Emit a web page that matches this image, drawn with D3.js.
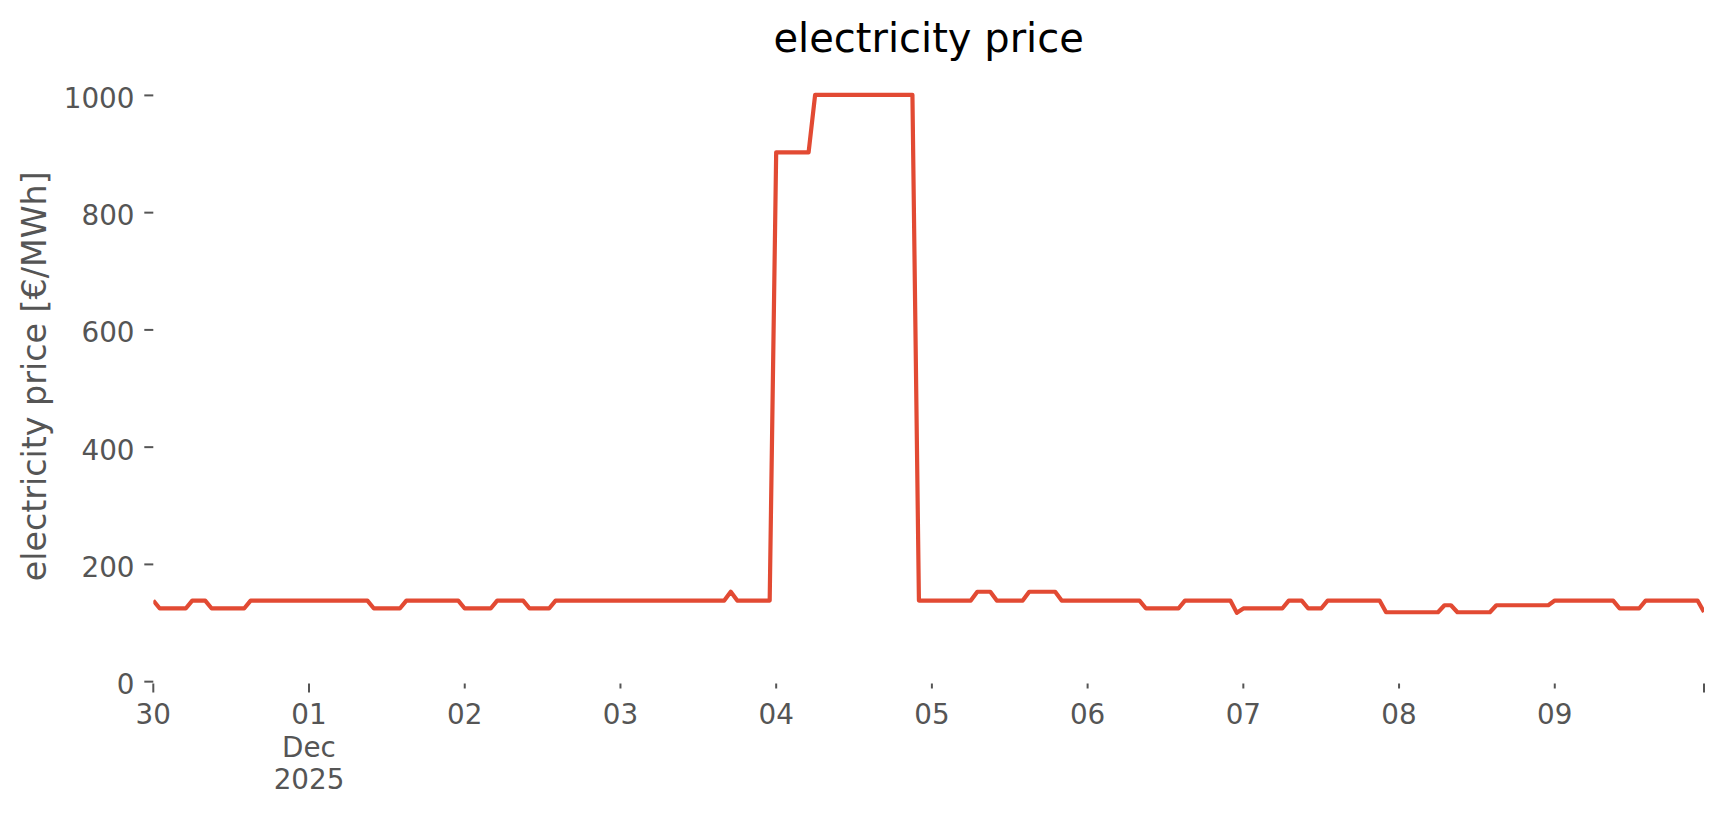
<!DOCTYPE html>
<html>
<head>
<meta charset="utf-8">
<script src="https://cdn.jsdelivr.net/npm/d3@7"></script>
<style>
  body { margin: 0; background: #ffffff; }
  text { font-family: "DejaVu Sans", sans-serif; }
</style>
</head>
<body>
<div id="chart"></div>
<script>
// hourly price per day [€/MWh], 24 values each
var nov30 = [137.5,124,124,124,124,124,137.5,137.5,137.5,124,124,124,124,124,124,137.5,137.5,137.5,137.5,137.5,137.5,137.5,137.5,137.5];
var dec01 = [137.5,137.5,137.5,137.5,137.5,137.5,137.5,137.5,137.5,137.5,124,124,124,124,124,137.5,137.5,137.5,137.5,137.5,137.5,137.5,137.5,137.5];
var dec02 = [124,124,124,124,124,137.5,137.5,137.5,137.5,137.5,124,124,124,124,137.5,137.5,137.5,137.5,137.5,137.5,137.5,137.5,137.5,137.5];
var dec03 = [137.5,137.5,137.5,137.5,137.5,137.5,137.5,137.5,137.5,137.5,137.5,137.5,137.5,137.5,137.5,137.5,137.5,152.5,137.5,137.5,137.5,137.5,137.5,137.5];
var dec04 = [902,902,902,902,902,902,1000,1000,1000,1000,1000,1000,1000,1000,1000,1000,1000,1000,1000,1000,1000,1000,137.5,137.5];
var dec05 = [137.5,137.5,137.5,137.5,137.5,137.5,137.5,152.5,152.5,152.5,137.5,137.5,137.5,137.5,137.5,152.5,152.5,152.5,152.5,152.5,137.5,137.5,137.5,137.5];
var dec06 = [137.5,137.5,137.5,137.5,137.5,137.5,137.5,137.5,137.5,124,124,124,124,124,124,137.5,137.5,137.5,137.5,137.5,137.5,137.5,137.5,116.5];
var dec07 = [124,124,124,124,124,124,124,137.5,137.5,137.5,124,124,124,137.5,137.5,137.5,137.5,137.5,137.5,137.5,137.5,137.5,117.5,117.5];
var dec08 = [117.5,117.5,117.5,117.5,117.5,117.5,117.5,129.5,129.5,117.5,117.5,117.5,117.5,117.5,117.5,129.5,129.5,129.5,129.5,129.5,129.5,129.5,129.5,129.5];
var dec09 = [137.5,137.5,137.5,137.5,137.5,137.5,137.5,137.5,137.5,137.5,124,124,124,124,137.5,137.5,137.5,137.5,137.5,137.5,137.5,137.5,137.5,118];

var days = [nov30, dec01, dec02, dec03, dec04, dec05, dec06, dec07, dec08, dec09];
var yTicks = [0, 200, 400, 600, 800, 1000];

var titleText = "electricity price";
var yLabelText = "electricity price [€/MWh]";

// flatten into hourly points
var priceData = [];
days.forEach(function(vals, i) {
    vals.forEach(function(v, h) {
        priceData.push({ date: new Date(2025, 10, 30 + i, h), price: v });
    });
});

var svgWidth = 1724;
var svgHeight = 815;

var margin = { top: 69.1, left: 153.3, right: 20, bottom: 131.5 };
var width = 1704 - margin.left;
var height = svgHeight - margin.top - margin.bottom;

var svg = d3.select("#chart").append("svg")
    .attr("width", svgWidth)
    .attr("height", svgHeight)
    .style("background", "#ffffff");

var chartGroup = svg.append("g")
    .attr("transform", `translate(${margin.left}, ${margin.top})`);

var xTime = d3.scaleTime()
    .domain(d3.extent(priceData, d => d.date))
    .range([0, width]);

var yLinear = d3.scaleLinear()
    .domain([-4, 1044])
    .range([height, 0]);

svg.append("defs").append("clipPath").attr("id", "plotClip")
    .append("rect").attr("x", 0).attr("y", 0).attr("width", width).attr("height", height);

// y axis
var leftAxis = d3.axisLeft(yLinear).tickValues(yTicks).tickFormat(d3.format("d")).tickSize(9).tickPadding(9.8);
var yAxisG = chartGroup.append("g").call(leftAxis);
yAxisG.select(".domain").remove();
yAxisG.selectAll(".tick line").attr("stroke", "#555555").attr("stroke-width", 2);
yAxisG.selectAll(".tick text")
    .attr("fill", "#555555")
    .style("font-size", "27.8px")
    .attr("dy", "0.45em");

// x axis: days as ticks, longer ticks at start, month and end
var startDate = xTime.domain()[0];
var endDate = xTime.domain()[1];
var dayTicks = d3.timeDay.range(startDate, endDate);
var majorDates = [startDate, new Date(2025, 11, 1), endDate];

var xAxisG = chartGroup.append("g").attr("transform", `translate(0, ${height})`);

xAxisG.selectAll(".xtick")
    .data(dayTicks.concat([endDate]))
    .enter().append("line")
    .attr("x1", d => xTime(d)).attr("x2", d => xTime(d))
    .attr("y1", 0)
    .attr("y2", d => majorDates.some(m => +m === +d) ? 9 : 5)
    .attr("stroke", "#555555")
    .attr("stroke-width", 2);

xAxisG.selectAll(".xlabel")
    .data(dayTicks)
    .enter().append("text")
    .attr("x", d => xTime(d))
    .attr("y", 40.5)
    .attr("text-anchor", "middle")
    .attr("fill", "#555555")
    .style("font-size", "27.8px")
    .text(d3.timeFormat("%d"));

xAxisG.append("text")
    .attr("x", xTime(new Date(2025, 11, 1)))
    .attr("y", 73)
    .attr("text-anchor", "middle")
    .attr("fill", "#555555")
    .style("font-size", "27.8px")
    .text("Dec");

xAxisG.append("text")
    .attr("x", xTime(new Date(2025, 11, 1)))
    .attr("y", 105)
    .attr("text-anchor", "middle")
    .attr("fill", "#555555")
    .style("font-size", "27.8px")
    .text("2025");

// price line
var priceLine = d3.line()
    .x(d => xTime(d.date))
    .y(d => yLinear(d.price));

chartGroup.append("path")
    .datum(priceData)
    .attr("clip-path", "url(#plotClip)")
    .attr("d", priceLine)
    .attr("fill", "none")
    .attr("stroke", "#E24A33")
    .attr("stroke-width", 4.2)
    .attr("stroke-linejoin", "round");

// title and y label
svg.append("text")
    .attr("x", margin.left + width / 2)
    .attr("y", 52)
    .attr("text-anchor", "middle")
    .attr("fill", "#000000")
    .style("font-size", "40px")
    .text(titleText);

svg.append("text")
    .attr("transform", `translate(46, ${margin.top + height / 2}) rotate(-90)`)
    .attr("text-anchor", "middle")
    .attr("fill", "#555555")
    .style("font-size", "33.3px")
    .text(yLabelText);
</script>
</body>
</html>
